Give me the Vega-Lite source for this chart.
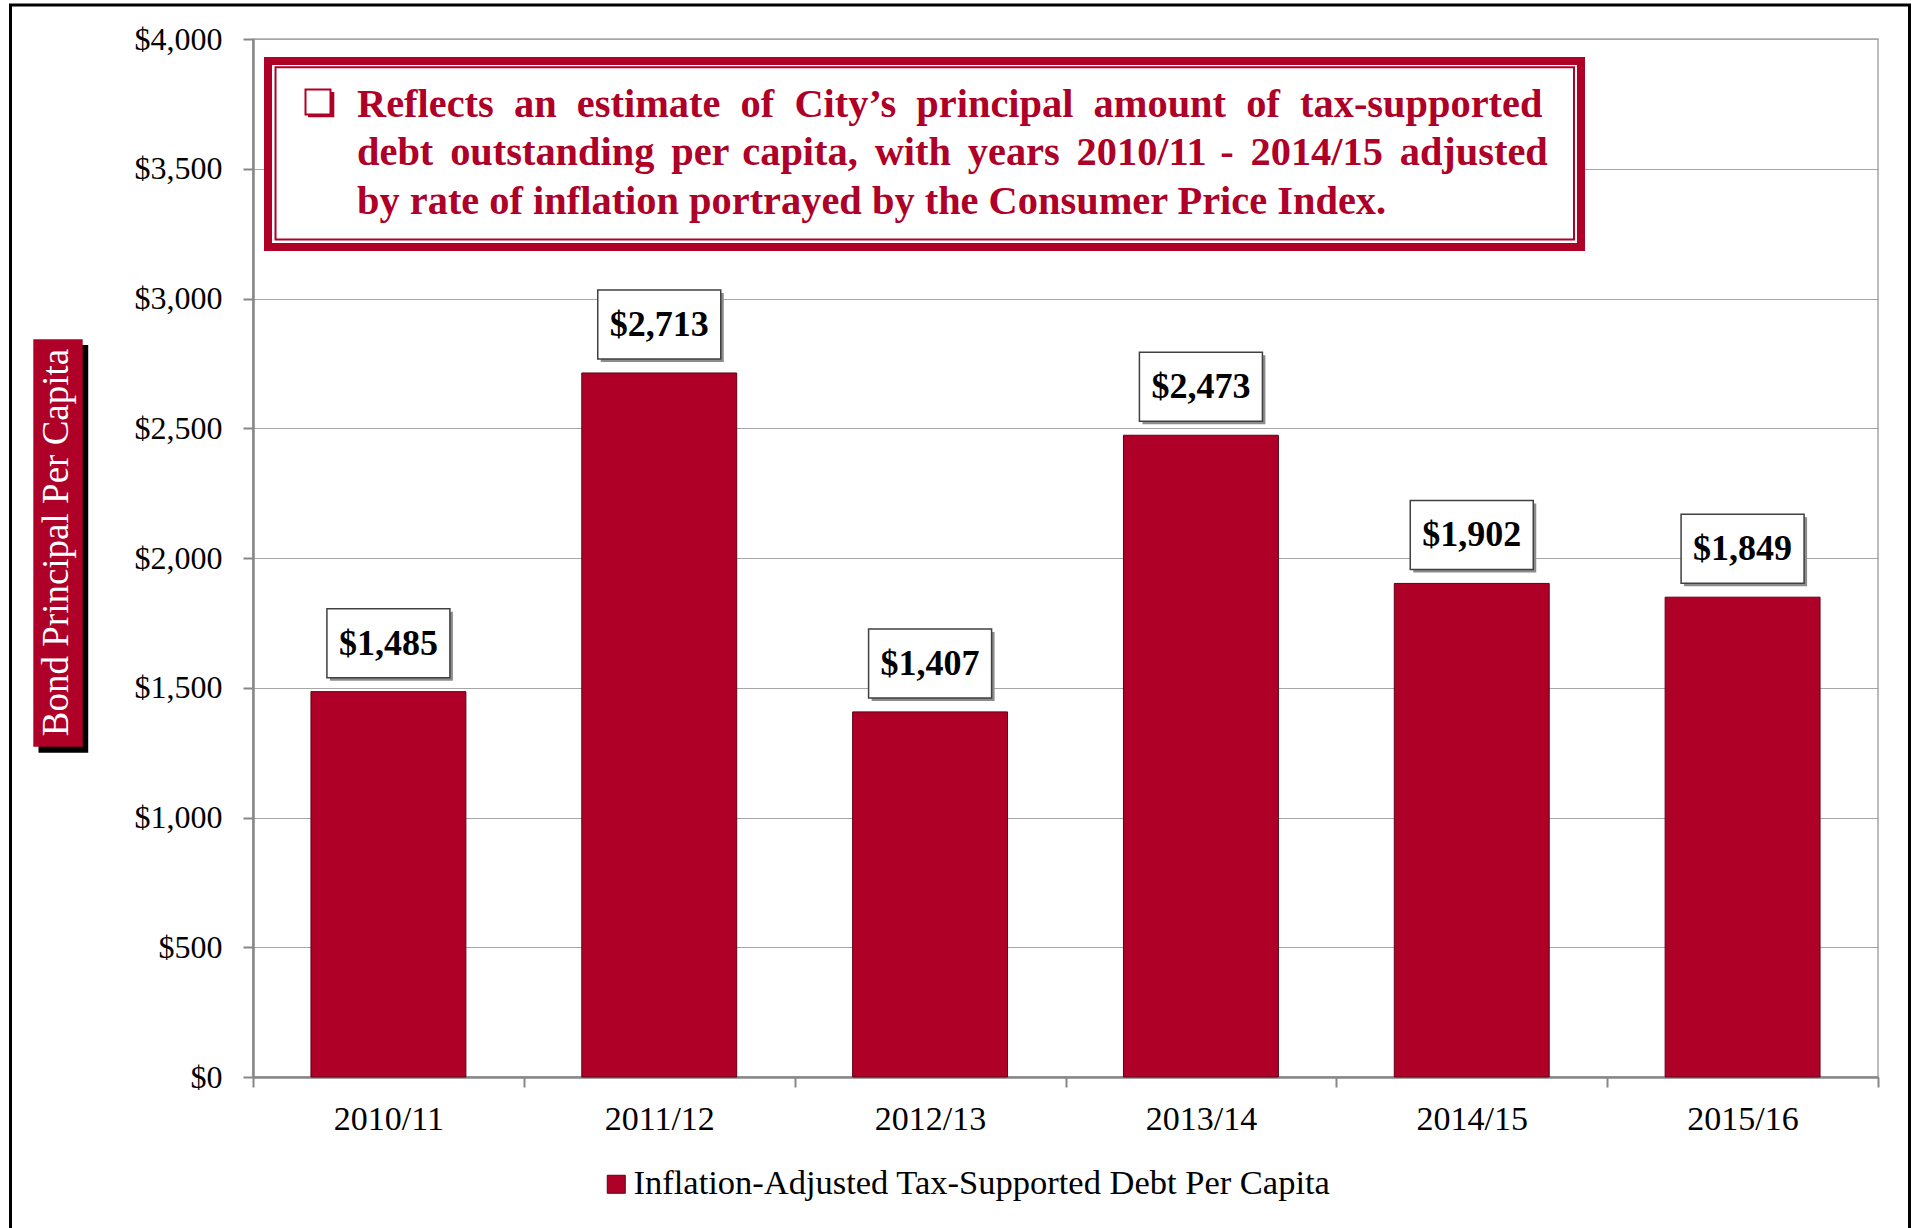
{
  "$schema": "https://vega.github.io/schema/vega-lite/v6.json",
  "width": 1625,
  "height": 1038,
  "autosize": {"type": "none"},
  "padding": {"left": 253, "top": 39, "right": 37, "bottom": 151},
  "background": "white",
  "config": {
    "view": {"stroke": "#A6A6A6", "strokeWidth": 1.5},
    "font": "Liberation Serif"
  },
  "resolve": {"scale": {"x": "independent", "y": "independent"}},
  "layer": [
    {
      "data": {"values": [
        {"year": "2010/11", "debt": 1485},
        {"year": "2011/12", "debt": 2713},
        {"year": "2012/13", "debt": 1407},
        {"year": "2013/14", "debt": 2473},
        {"year": "2014/15", "debt": 1902},
        {"year": "2015/16", "debt": 1849}
      ]},
      "encoding": {
        "x": {
          "field": "year", "type": "nominal", "sort": null,
          "scale": {"paddingInner": 0, "paddingOuter": 0},
          "axis": {
            "title": null, "labelAngle": 0, "labelFont": "Liberation Serif", "labelFontSize": 34,
            "labelColor": "black", "labelPadding": 15, "tickSize": 10, "tickColor": "#878787",
            "tickWidth": 2, "domainColor": "#878787", "domainWidth": 2.5, "tickBand": "extent", "grid": false
          }
        },
        "y": {
          "field": "debt", "type": "quantitative",
          "scale": {"domain": [0, 4000], "nice": false},
          "axis": {
            "title": null, "values": [0, 500, 1000, 1500, 2000, 2500, 3000, 3500, 4000],
            "format": "$,.0f", "labelFont": "Liberation Serif", "labelFontSize": 32, "labelColor": "black",
            "labelPadding": 21, "tickSize": 10, "tickColor": "#878787", "tickWidth": 2,
            "domainColor": "#878787", "domainWidth": 2.5, "grid": true, "gridColor": "#A6A6A6", "gridWidth": 1.2
          }
        }
      },
      "layer": [
        {
          "mark": {"type": "bar", "width": {"band": 0.572}, "stroke": "#5c0014", "strokeWidth": 1},
          "encoding": {
            "color": {
              "datum": "Inflation-Adjusted Tax-Supported Debt Per Capita",
              "scale": {"range": ["#AF0027"]},
              "legend": {
                "title": null, "orient": "none", "legendX": 346, "legendY": 1128,
                "symbolType": "square", "symbolSize": 324, "symbolStrokeColor": "#5c0014",
                "symbolStrokeWidth": 1, "labelFont": "Liberation Serif", "labelFontSize": 34.5,
                "labelColor": "black", "labelOffset": 0, "labelLimit": 0, "padding": 0
              }
            }
          }
        },
        {
          "mark": {"type": "rect", "width": 123, "height": 69, "xOffset": 3, "yOffset": -45.5, "fill": "#8c8c8c"}
        },
        {
          "mark": {"type": "rect", "width": 123, "height": 69, "yOffset": -48.5, "fill": "white", "stroke": "#404040", "strokeWidth": 1.5}
        },
        {
          "mark": {"type": "text", "font": "Liberation Serif", "fontWeight": "bold", "fontSize": 36, "baseline": "middle", "align": "center", "yOffset": -48, "color": "black"},
          "encoding": {"text": {"field": "debt", "type": "quantitative", "format": "$,.0f"}}
        }
      ]
    },
    {
      "data": {"values": [
        {"note": "Reflects \u2005an \u2005estimate \u2005of \u2005City’s \u2005principal \u2005amount \u2005of \u2005tax-supported\ndebt \u2006outstanding \u2006per \u200acapita, \u2006with \u2006years \u20062010/11 \u200a- \u20062014/15 \u2006adjusted\nby rate of inflation portrayed by the Consumer Price Index.", "ytitle": "Bond Principal Per Capita"}
      ]},
      "layer": [
        {
          "mark": {"type": "rect", "filled": false, "stroke": "black", "strokeWidth": 3},
          "encoding": {
            "x": {"datum": -0.14923, "type": "quantitative", "scale": {"domain": [0, 1], "nice": false, "zero": false}, "axis": null},
            "x2": {"datum": 1.01938},
            "y": {"datum": 4131, "type": "quantitative", "scale": {"domain": [0, 4000], "nice": false}, "axis": null},
            "y2": {"datum": -628}
          }
        },
        {
          "mark": {"type": "rect", "fill": "white", "stroke": "#AF0027", "strokeWidth": 8},
          "encoding": {
            "x": {"datum": 0.00923, "type": "quantitative", "scale": {"domain": [0, 1], "nice": false, "zero": false}, "axis": null},
            "x2": {"datum": 0.81723},
            "y": {"datum": 3915.3, "type": "quantitative", "scale": {"domain": [0, 4000], "nice": false}, "axis": null},
            "y2": {"datum": 3198.5}
          }
        },
        {
          "mark": {"type": "rect", "filled": false, "stroke": "#AF0027", "strokeWidth": 2},
          "encoding": {
            "x": {"datum": 0.01385, "type": "quantitative", "scale": {"domain": [0, 1], "nice": false, "zero": false}, "axis": null},
            "x2": {"datum": 0.81292},
            "y": {"datum": 3891, "type": "quantitative", "scale": {"domain": [0, 4000], "nice": false}, "axis": null},
            "y2": {"datum": 3227.4}
          }
        },
        {
          "mark": {"type": "rect", "fill": "#AF0027"},
          "encoding": {
            "x": {"datum": 0.03385, "type": "quantitative", "scale": {"domain": [0, 1], "nice": false, "zero": false}, "axis": null},
            "x2": {"datum": 0.05003},
            "y": {"datum": 3795.8, "type": "quantitative", "scale": {"domain": [0, 4000], "nice": false}, "axis": null},
            "y2": {"datum": 3698.3}
          }
        },
        {
          "mark": {"type": "rect", "fill": "white", "stroke": "#AF0027", "strokeWidth": 2},
          "encoding": {
            "x": {"datum": 0.03231, "type": "quantitative", "scale": {"domain": [0, 1], "nice": false, "zero": false}, "axis": null},
            "x2": {"datum": 0.04769},
            "y": {"datum": 3805.4, "type": "quantitative", "scale": {"domain": [0, 4000], "nice": false}, "axis": null},
            "y2": {"datum": 3709.1}
          }
        },
        {
          "mark": {"type": "text", "font": "Liberation Serif", "fontWeight": "bold", "fontSize": 40.4, "color": "#AF0027", "align": "left", "baseline": "alphabetic", "lineBreak": "\n", "lineHeight": 48.5},
          "encoding": {
            "x": {"datum": 0.064, "type": "quantitative", "scale": {"domain": [0, 1], "nice": false, "zero": false}, "axis": null},
            "y": {"datum": 3699.5, "type": "quantitative", "scale": {"domain": [0, 4000], "nice": false}, "axis": null},
            "text": {"field": "note"}
          }
        },
        {
          "mark": {"type": "rect", "fill": "black"},
          "encoding": {
            "x": {"datum": -0.132, "type": "quantitative", "scale": {"domain": [0, 1], "nice": false, "zero": false}, "axis": null},
            "x2": {"datum": -0.1014},
            "y": {"datum": 2821, "type": "quantitative", "scale": {"domain": [0, 4000], "nice": false}, "axis": null},
            "y2": {"datum": 1249.7}
          }
        },
        {
          "mark": {"type": "rect", "fill": "#AF0027"},
          "encoding": {
            "x": {"datum": -0.1352, "type": "quantitative", "scale": {"domain": [0, 1], "nice": false, "zero": false}, "axis": null},
            "x2": {"datum": -0.1048},
            "y": {"datum": 2843, "type": "quantitative", "scale": {"domain": [0, 4000], "nice": false}, "axis": null},
            "y2": {"datum": 1272.8}
          }
        },
        {
          "mark": {"type": "text", "font": "Liberation Serif", "fontSize": 37, "color": "white", "align": "center", "baseline": "middle", "angle": 270},
          "encoding": {
            "x": {"datum": -0.12062, "type": "quantitative", "scale": {"domain": [0, 1], "nice": false, "zero": false}, "axis": null},
            "y": {"datum": 2059.8, "type": "quantitative", "scale": {"domain": [0, 4000], "nice": false}, "axis": null},
            "text": {"field": "ytitle"}
          }
        }
      ]
    }
  ]
}
